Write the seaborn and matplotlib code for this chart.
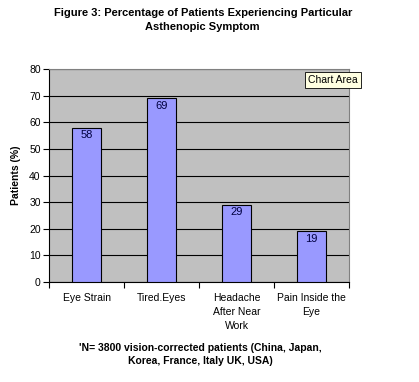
import matplotlib
matplotlib.use("Agg")
import matplotlib.pyplot as plt
import seaborn as sns
import pandas as pd

symptoms = ["Eye Strain", "Tired.Eyes", "Headache\nAfter Near\nWork", "Pain Inside the\nEye"]
patients = [58, 69, 29, 19]
yticks = [0, 10, 20, 30, 40, 50, 60, 70, 80]

df = pd.DataFrame({"Symptom": symptoms, "Patients": patients})

sns.set_style("white")
plt.rcParams["font.family"] = ["Liberation Sans", "DejaVu Sans"]
plt.rcParams["text.color"] = "black"
plt.rcParams["axes.labelcolor"] = "black"
plt.rcParams["xtick.color"] = "black"
plt.rcParams["ytick.color"] = "black"

fig = plt.figure(figsize=(4.19, 3.82), dpi=100)
ax = fig.add_axes([0.117, 0.262, 0.716, 0.557])
ax.set_facecolor("#C0C0C0")

sns.barplot(data=df, x="Symptom", y="Patients", color="#9999FF",
            edgecolor="black", linewidth=0.8, width=0.38, saturation=1, ax=ax, zorder=3)

for i, v in enumerate(patients):
    ax.text(i, v - 1.0, str(v), ha="center", va="top", fontsize=8, color="#000040", zorder=4)

ax.set_ylim(0, 80)
ax.set_xlim(-0.5, 3.5)
ax.set_yticks(yticks)
ax.yaxis.grid(True, color="black", linewidth=0.8, zorder=0)
ax.set_axisbelow(True)
ax.tick_params(axis="y", direction="out", length=4, width=0.8, labelsize=7.5, left=True, pad=2)
ax.set_xticks([-0.5, 0.5, 1.5, 2.5, 3.5], minor=False)
ax.set_xticklabels([])
ax.set_xticks(range(4), minor=True)
ax.set_xticklabels(symptoms, minor=True, fontsize=7.5, linespacing=1.5)
ax.tick_params(axis="x", which="major", direction="out", length=4, width=0.8, bottom=True)
ax.tick_params(axis="x", which="minor", length=0, pad=8)
for s in ["top", "right"]:
    ax.spines[s].set_color("#808080")
for s in ["left", "bottom"]:
    ax.spines[s].set_color("black")
ax.set_xlabel("")
ax.set_ylabel("Patients (%)", fontsize=7.5, fontweight="bold", labelpad=6)

fig.text(0.484, 0.978, "Figure 3: Percentage of Patients Experiencing Particular\nAsthenopic Symptom",
         ha="center", va="top", fontsize=8, fontweight="bold", linespacing=1.5)
fig.text(0.478, 0.103, "'N= 3800 vision-corrected patients (China, Japan,\nKorea, France, Italy UK, USA)",
         ha="center", va="top", fontsize=7.5, fontweight="bold", linespacing=1.4)

fig.text(0.736, 0.79, "Chart Area", fontsize=7.5, ha="left", va="center",
         bbox=dict(boxstyle="square,pad=0.3", facecolor="#FFFFE1", edgecolor="black", linewidth=0.6))

fig.savefig("out.png", dpi=100)
